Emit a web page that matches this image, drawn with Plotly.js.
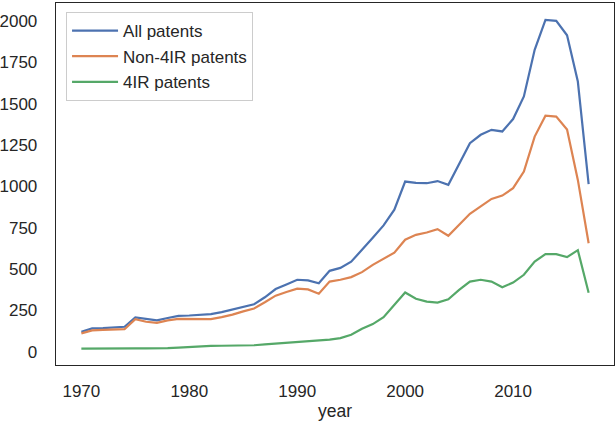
<!DOCTYPE html>
<html>
<head>
<meta charset="utf-8">
<script src="https://cdn.plot.ly/plotly-3.0.1.min.js"></script>
<style>
html,body{margin:0;padding:0;background:#fff;}
#chart{width:616px;height:422px;}
</style>
</head>
<body>
<div id="chart"></div>
<script>
const years = [];
for (let y = 1970; y <= 2017; y++) years.push(y);

const allPatents = [122,142,144,147,152,208,198,190,205,218,
  220,222,228,240,255,272,288,330,380,408,
  436,432,415,490,508,545,615,690,765,860,
  1030,1022,1020,1033,1010,1140,1262,1313,1343,1333,
  1408,1545,1827,2008,2002,1915,1635,1014];

const non4IR = [112,130,133,135,137,198,182,175,190,200,
  198,196,198,210,225,245,262,300,340,362,
  382,378,352,425,436,452,482,526,565,600,
  678,708,722,742,702,768,835,880,925,945,
  990,1091,1302,1428,1423,1345,1040,657];

const ir4 = [20,21,21,21,21,21,21,21,23,26,
  30,34,36,37,37,38,40,45,50,55,
  60,62,68,74,83,103,140,168,210,284,
  359,321,304,298,318,375,425,436,425,391,
  419,466,546,591,591,573,615,357];

const seriesNames = ['All patents', 'Non-4IR patents', '4IR patents'];
const seriesColors = ['#4c72b0', '#dd8452', '#55a868'];
const seriesData = [allPatents, non4IR, ir4];

const xTicks = [1970, 1980, 1990, 2000, 2010];
const yTicks = [0, 250, 500, 750, 1000, 1250, 1500, 1750, 2000];

const traces = seriesData.map((d, i) => ({
  x: years, y: d, type: 'scatter', mode: 'lines', name: seriesNames[i],
  legendgroup: 'g' + i,
  line: {color: seriesColors[i], width: 2.2}
}));

const FAM = 'Liberation Sans, Arial, sans-serif';
const TXT = '#262626';

const layout = {
  width: 616, height: 422,
  margin: {l: 56, r: 2, t: 3, b: 57},
  paper_bgcolor: '#ffffff', plot_bgcolor: '#ffffff',
  font: {family: FAM, size: 17, color: TXT},
  showlegend: true,
  legend: {
    x: 0.018, y: 0.975, xanchor: 'left', yanchor: 'top',
    bgcolor: 'rgba(255,255,255,0.8)', bordercolor: '#cccccc', borderwidth: 1,
    font: {family: FAM, size: 17, color: TXT},
    traceorder: 'grouped', tracegroupgap: 0.5, itemwidth: 46
  },
  xaxis: {
    range: [1967.65, 2019.35],
    tickmode: 'array', tickvals: xTicks, ticktext: xTicks.map(String),
    showgrid: false, zeroline: false,
    showline: true, mirror: true, linecolor: TXT, linewidth: 1.3,
    ticks: '', ticklabelstandoff: 10,
    tickfont: {family: FAM, size: 17, color: TXT},
    title: {text: 'year', font: {family: FAM, size: 17.5, color: TXT}, standoff: 5}
  },
  yaxis: {
    range: [-79.5, 2110],
    tickmode: 'array', tickvals: yTicks, ticktext: yTicks.map(String),
    showgrid: false, zeroline: false,
    showline: true, mirror: true, linecolor: TXT, linewidth: 1.3,
    ticks: '', ticklabelstandoff: 14,
    tickfont: {family: FAM, size: 17, color: TXT}
  }
};

Plotly.newPlot('chart', traces, layout, {displayModeBar: false, staticPlot: true});
</script>
</body>
</html>
